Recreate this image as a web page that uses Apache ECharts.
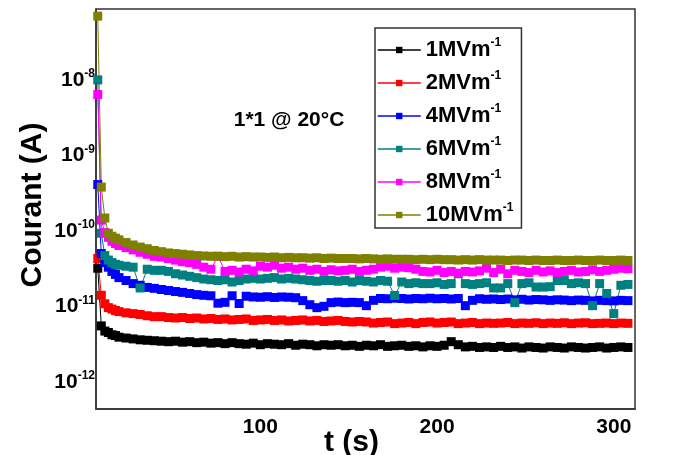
<!DOCTYPE html>
<html>
<head>
<meta charset="utf-8">
<script src="https://cdn.jsdelivr.net/npm/echarts@6/dist/echarts.min.js"></script>
<style>
html,body{margin:0;padding:0;background:#fff;}
#c{width:673px;height:455px;}
</style>
</head>
<body>
<div id="c"></div>
<script>
// time (s)
const times = [8,10,12,14,16,18,20,24,28,32,
  36,40,44,48,52,56,60,64,68,72,
  76,80,84,88,92,96,100,104,108,112,
  116,120,124,128,132,136,140,144,148,152,
  156,160,164,168,172,176,180,184,188,192,
  196,200,204,208,212,216,220,224,228,232,
  236,240,244,248,252,256,260,264,268,272,
  276,280,284,288,292,296,300,304,308];

const seriesNames = ['1MVm-1','2MVm-1','4MVm-1','6MVm-1','8MVm-1','10MVm-1'];
const seriesColors = ['#000000','#ff0000','#0000ff','#008080','#ff00ff','#808000'];

const i1 = [3.2e-11,5.5e-12,4.7e-12,4.5e-12,4.2e-12,4.1e-12,3.9e-12,3.8e-12,3.7e-12,3.6e-12,
  3.55e-12,3.5e-12,3.45e-12,3.4e-12,3.45e-12,3.35e-12,3.4e-12,3.3e-12,3.35e-12,3.25e-12,
  3.3e-12,3.2e-12,3.3e-12,3.2e-12,3.15e-12,3.25e-12,3.1e-12,3.2e-12,3.15e-12,3.1e-12,
  3.2e-12,3.05e-12,3.15e-12,3.1e-12,3.0e-12,3.1e-12,3.05e-12,3.1e-12,3.0e-12,3.05e-12,
  2.95e-12,3.05e-12,3.0e-12,3.1e-12,2.95e-12,3.0e-12,3.05e-12,2.95e-12,3.0e-12,2.9e-12,
  3.0e-12,2.95e-12,3.05e-12,3.4e-12,3.1e-12,2.9e-12,2.95e-12,2.85e-12,2.9e-12,2.85e-12,
  2.95e-12,2.85e-12,2.9e-12,2.8e-12,2.9e-12,2.85e-12,2.8e-12,2.9e-12,2.85e-12,2.8e-12,
  2.9e-12,2.85e-12,2.8e-12,2.85e-12,2.9e-12,2.8e-12,2.85e-12,2.9e-12,2.85e-12];

const i2 = [4.3e-11,1.4e-11,1.08e-11,9.6e-12,9.2e-12,8.8e-12,8.5e-12,8.2e-12,8.0e-12,7.8e-12,
  7.5e-12,7.3e-12,7.3e-12,7.1e-12,7.0e-12,7.1e-12,6.9e-12,7.0e-12,6.8e-12,6.9e-12,
  6.7e-12,6.8e-12,6.6e-12,6.7e-12,6.8e-12,6.5e-12,6.6e-12,6.7e-12,6.5e-12,6.6e-12,
  6.4e-12,6.5e-12,6.6e-12,6.4e-12,6.5e-12,6.3e-12,6.4e-12,6.5e-12,6.3e-12,6.2e-12,
  6.3e-12,6.2e-12,6.0e-12,6.1e-12,6.2e-12,5.9e-12,6.0e-12,6.1e-12,5.9e-12,6.1e-12,
  6.2e-12,6.0e-12,6.1e-12,6.2e-12,5.9e-12,6.0e-12,6.1e-12,5.9e-12,6.0e-12,5.95e-12,
  6.0e-12,6.1e-12,5.9e-12,6.0e-12,5.95e-12,6.05e-12,5.9e-12,6.0e-12,5.95e-12,6.05e-12,
  5.9e-12,6.0e-12,6.05e-12,5.9e-12,5.95e-12,6.0e-12,5.9e-12,6.0e-12,5.95e-12];

const i4 = [4.1e-10,5.0e-11,3.8e-11,3.3e-11,2.9e-11,2.65e-11,2.4e-11,2.2e-11,2.0e-11,1.9e-11,
  1.78e-11,1.73e-11,1.67e-11,1.62e-11,1.57e-11,1.53e-11,1.48e-11,1.43e-11,1.40e-11,1.38e-11,
  1.1e-11,1.13e-11,1.38e-11,1.09e-11,1.36e-11,1.33e-11,1.32e-11,1.34e-11,1.31e-11,1.33e-11,
  1.32e-11,1.30e-11,1.19e-11,1.05e-11,9.6e-12,1.0e-11,1.12e-11,1.14e-11,1.12e-11,1.13e-11,
  1.12e-11,1.02e-11,1.2e-11,1.27e-11,1.26e-11,1.28e-11,1.27e-11,1.25e-11,1.27e-11,1.26e-11,
  1.28e-11,1.26e-11,1.27e-11,1.25e-11,1.27e-11,1.02e-11,1.2e-11,1.26e-11,1.24e-11,1.25e-11,
  1.23e-11,1.25e-11,1.22e-11,1.24e-11,1.21e-11,1.23e-11,1.22e-11,1.2e-11,1.22e-11,1.21e-11,
  1.19e-11,1.21e-11,1.2e-11,1.18e-11,1.2e-11,1.19e-11,1.18e-11,1.2e-11,1.19e-11];

const i6 = [1.0e-8,9.3e-11,4.7e-11,4.1e-11,3.8e-11,3.6e-11,3.5e-11,3.4e-11,3.3e-11,1.75e-11,
  3.1e-11,3.0e-11,3.0e-11,2.9e-11,2.7e-11,2.6e-11,2.5e-11,2.4e-11,2.3e-11,2.25e-11,
  2.2e-11,2.25e-11,2.1e-11,2.2e-11,2.3e-11,2.35e-11,2.3e-11,2.35e-11,2.4e-11,2.3e-11,
  2.35e-11,2.3e-11,2.25e-11,2.2e-11,2.15e-11,2.2e-11,2.2e-11,2.15e-11,2.2e-11,2.1e-11,
  2.2e-11,2.15e-11,2.1e-11,2.2e-11,2.15e-11,1.39e-11,2.1e-11,2.0e-11,2.05e-11,2.0e-11,
  2.0e-11,2.05e-11,1.95e-11,2.0e-11,2.7e-11,2.0e-11,1.95e-11,2.0e-11,2.05e-11,1.75e-11,
  1.75e-11,2.0e-11,1.12e-11,2.0e-11,2.05e-11,1.8e-11,1.8e-11,1.82e-11,2.2e-11,2.2e-11,
  2.0e-11,2.05e-11,2.0e-11,1.02e-11,2.0e-11,1.48e-11,8.0e-12,1.9e-11,1.95e-11];

const i8 = [6.4e-9,1.39e-10,9.5e-11,8.2e-11,7.3e-11,6.8e-11,6.4e-11,6.0e-11,5.6e-11,5.2e-11,
  4.9e-11,4.6e-11,4.5e-11,4.3e-11,4.1e-11,3.9e-11,3.8e-11,3.6e-11,3.3e-11,3.1e-11,
  4.6e-11,2.9e-11,3.0e-11,2.85e-11,3.1e-11,2.95e-11,3.4e-11,3.3e-11,3.5e-11,3.2e-11,
  3.3e-11,3.1e-11,3.2e-11,3.0e-11,3.1e-11,2.9e-11,3.05e-11,2.95e-11,3.0e-11,3.1e-11,
  2.9e-11,3.0e-11,3.1e-11,3.3e-11,3.4e-11,3.2e-11,3.3e-11,3.25e-11,3.1e-11,2.9e-11,
  2.85e-11,3.0e-11,2.8e-11,2.9e-11,2.75e-11,2.9e-11,2.85e-11,2.95e-11,3.2e-11,2.8e-11,
  3.1e-11,2.7e-11,3.0e-11,2.9e-11,2.8e-11,3.0e-11,2.85e-11,2.95e-11,2.8e-11,2.9e-11,
  3.0e-11,2.85e-11,2.9e-11,3.05e-11,2.9e-11,3.0e-11,3.1e-11,3.2e-11,3.15e-11];

const i10 = [7.0e-8,3.8e-10,1.48e-10,9.3e-11,8.5e-11,8.0e-11,7.6e-11,7.0e-11,6.5e-11,6.1e-11,
  5.8e-11,5.5e-11,5.3e-11,5.1e-11,5.0e-11,4.9e-11,4.8e-11,4.7e-11,4.65e-11,4.6e-11,
  4.6e-11,4.55e-11,4.6e-11,4.5e-11,4.55e-11,4.5e-11,4.5e-11,4.45e-11,4.5e-11,4.4e-11,
  4.45e-11,4.4e-11,4.4e-11,4.35e-11,4.4e-11,4.3e-11,4.35e-11,4.3e-11,4.3e-11,4.3e-11,
  4.25e-11,4.3e-11,4.25e-11,4.2e-11,4.25e-11,4.2e-11,4.2e-11,4.2e-11,4.15e-11,4.2e-11,
  4.15e-11,4.2e-11,4.15e-11,4.15e-11,4.1e-11,4.15e-11,4.1e-11,4.15e-11,4.1e-11,4.1e-11,
  4.1e-11,4.05e-11,4.1e-11,4.1e-11,4.05e-11,4.1e-11,4.05e-11,4.05e-11,4.1e-11,4.05e-11,
  4.05e-11,4.1e-11,4.05e-11,4.05e-11,4.1e-11,4.05e-11,4.05e-11,4.1e-11,4.05e-11];

const seriesValues = [i1, i2, i4, i6, i8, i10];
const annotation = '1*1 @ 20°C';

const FONT = '"Liberation Sans", Arial, sans-serif';
const chart = echarts.init(document.getElementById('c'), null, {renderer: 'canvas'});

const option = {
  animation: false,
  backgroundColor: '#fff',
  grid: {left: 96, right: 38, top: 9, bottom: 46, show: true, borderColor: '#333', borderWidth: 1.5,
    backgroundColor: 'transparent', containLabel: false, outerBoundsMode: 'none'},
  xAxis: {
    type: 'value', min: 7, max: 312,
    name: 't (s)', nameLocation: 'middle', nameGap: 19, nameMoveOverlap: false,
    nameTextStyle: {fontFamily: FONT, fontWeight: 'bold', fontSize: 30, color: '#000', padding: [0, 28, 0, 0]},
    axisLine: {show: true, lineStyle: {color: '#333', width: 1.5}},
    axisTick: {show: false},
    splitLine: {show: false},
    axisLabel: {
      margin: 8, fontFamily: FONT, fontWeight: 'bold', fontSize: 21, color: '#000',
      formatter: v => (Math.abs(v % 100) < 1e-9 && v > 0) ? String(v) : ''
    }
  },
  yAxis: {
    type: 'log', logBase: 10, min: 4.36e-13, max: 8.7e-8,
    name: 'Courant (A)', nameLocation: 'middle', nameGap: 48, nameMoveOverlap: false,
    nameTextStyle: {fontFamily: FONT, fontWeight: 'bold', fontSize: 30, color: '#000', padding: [0, 0, 0, 8]},
    axisLine: {show: true, lineStyle: {color: '#333', width: 1.5}},
    axisTick: {show: false},
    splitLine: {show: false},
    axisLabel: {
      margin: 1, color: '#000',
      formatter: v => {
        const e = Math.log10(v); const r = Math.round(e);
        if (Math.abs(e - r) > 0.02 || r > -8) return '';
        return '{b|10}{s|' + r + '}';
      },
      rich: {
        b: {fontFamily: FONT, fontWeight: 'bold', fontSize: 21, color: '#000'},
        s: {fontFamily: FONT, fontWeight: 'bold', fontSize: 12, color: '#000', padding: [0, 0, 12, 0]}
      }
    }
  },
  legend: {
    orient: 'vertical', left: 375, top: 28,
    padding: [9, 8, 2, 2], itemGap: 9,
    itemWidth: 43, itemHeight: 8,
    borderColor: '#333', borderWidth: 1.5, backgroundColor: '#fff',
    lineStyle: {width: 1.5},
    data: seriesNames,
    formatter: n => n.replace('-1', '') + '{s|-1}',
    textStyle: {
      fontFamily: FONT, fontWeight: 'bold', fontSize: 22, color: '#000', lineHeight: 22,
      rich: {s: {fontFamily: FONT, fontWeight: 'bold', fontSize: 12, color: '#000', padding: [0, 0, 14, 0]}}
    }
  },
  graphic: [{
    type: 'text', x: 289, y: 120,
    style: {text: annotation, font: 'bold 21px ' + FONT, fill: '#000', align: 'center', verticalAlign: 'middle'}
  }],
  series: seriesNames.map((name, k) => ({
    name: name, type: 'line',
    data: times.map((t, i) => [t, seriesValues[k][i]]),
    symbol: 'rect', symbolSize: 9,
    color: seriesColors[k],
    itemStyle: {color: seriesColors[k]},
    lineStyle: {color: seriesColors[k], width: 1},
    clip: true
  }))
};
chart.setOption(option);
</script>
</body>
</html>
